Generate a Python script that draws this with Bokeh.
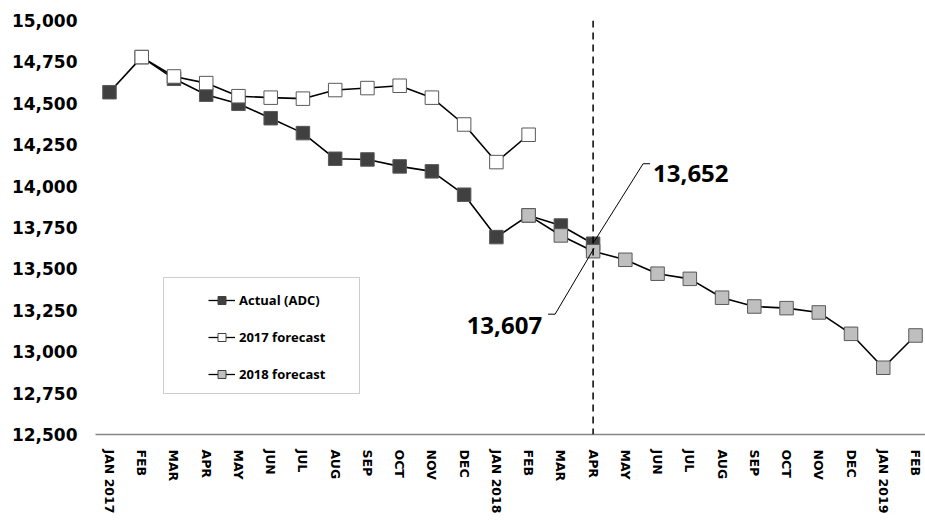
import math
from bokeh.plotting import figure
from bokeh.models import (Range1d, FixedTicker, Span, Legend, LegendItem,
                          BoxAnnotation, NumeralTickFormatter)
from bokeh.core.properties import value
from bokeh.embed import file_html
from bokeh.resources import INLINE

# ---------------- data ----------------
months = ["JAN 2017", "FEB", "MAR", "APR", "MAY", "JUN", "JUL", "AUG", "SEP", "OCT", "NOV", "DEC",
          "JAN 2018", "FEB", "MAR", "APR", "MAY", "JUN", "JUL", "AUG", "SEP", "OCT", "NOV", "DEC",
          "JAN 2019", "FEB"]

# Actual (ADC): JAN 2017 .. APR 2018
actual_start = 0
actual = [14567, 14779, 14648, 14552, 14497, 14410, 14320, 14165, 14161, 14119, 14089, 13948,
          13692, 13823, 13762, 13652]

# 2017 forecast: FEB 2017 .. FEB 2018
f2017_start = 1
forecast_2017 = [14779, 14662, 14622, 14543, 14534, 14528, 14580, 14592, 14606, 14534, 14372,
                 14145, 14310]

# 2018 forecast: FEB 2018 .. FEB 2019
f2018_start = 13
forecast_2018 = [13823, 13702, 13607, 13555, 13471, 13440, 13326, 13273, 13263, 13237, 13108,
                 12903, 13098]

cutoff_index = 15  # APR 2018
y_ticks = [12500, 12750, 13000, 13250, 13500, 13750, 14000, 14250, 14500, 14750, 15000]
series_names = ["Actual (ADC)", "2017 forecast", "2018 forecast"]

# ---------------- layout ----------------
W, H = 925, 529
ML, MR, MT, MB = 95, 0, 20, 95
x_start, x_end = -0.434, 25.31
y_start, y_end = 12500, 15000
frame_w, frame_h = W - ML - MR, H - MT - MB
px_x = frame_w / (x_end - x_start)
px_y = frame_h / (y_end - y_start)

p = figure(width=W, height=H, output_backend="svg", toolbar_location=None,
           x_range=Range1d(x_start, x_end), y_range=Range1d(y_start, y_end),
           min_border_left=ML, min_border_right=MR, min_border_top=MT, min_border_bottom=MB)
p.outline_line_color = None
p.xgrid.visible = False
p.ygrid.visible = False
p.background_fill_color = "white"
p.border_fill_color = "white"

# x axis
xa = p.xaxis[0]
xa.ticker = FixedTicker(ticks=list(range(len(months))))
xa.major_label_overrides = {i: m for i, m in enumerate(months)}
xa.major_label_orientation = -math.pi / 2
xa.major_label_text_font = "DejaVu Sans"
xa.major_label_text_font_style = "bold"
xa.major_label_text_font_size = "12.5px"
xa.major_label_text_color = "black"
xa.major_label_standoff = 9
xa.major_tick_line_color = None
xa.minor_tick_line_color = None
xa.axis_line_color = "#868686"
xa.axis_line_width = 1.5

# y axis
ya = p.yaxis[0]
ya.ticker = FixedTicker(ticks=y_ticks)
ya.formatter = NumeralTickFormatter(format="0,0")
ya.major_label_text_font = "DejaVu Sans"
ya.major_label_text_font_style = "bold"
ya.major_label_text_font_size = "17px"
ya.major_label_text_color = "black"
ya.major_label_standoff = 12
ya.major_tick_line_color = None
ya.minor_tick_line_color = None
ya.axis_line_color = None

# dashed cutoff line
p.add_layout(Span(location=cutoff_index, dimension="height", line_color="black",
                  line_width=1.5, line_dash="7 5"))

fills = ["#404040", "#ffffff", "#bfbfbf"]
series = [(actual_start, actual), (f2017_start, forecast_2017), (f2018_start, forecast_2018)]

for (start, vals), fill in zip(series, fills):
    xs = list(range(start, start + len(vals)))
    p.line(xs, vals, line_color="black", line_width=1.6)
    p.scatter(xs, vals, marker="square", size=13.5, fill_color=fill,
              line_color="#595959", line_width=1)

# legend (off-screen NaN renderers so the legend glyph can be smaller)
nan = float("nan")
items = []
for name, fill in zip(series_names, fills):
    lr = p.line([nan, nan], [nan, nan], line_color="black", line_width=1.3)
    sr = p.scatter([nan], [nan], marker="square", size=9, fill_color=fill,
                   line_color="#404040", line_width=1)
    items.append(LegendItem(label=name, renderers=[lr, sr]))

legend = Legend(items=items, location=(113, 50), padding=10, spacing=17,
                glyph_width=27, glyph_height=20, label_height=20, label_standoff=4,
                label_text_font="Open Sans", label_text_font_style="bold",
                label_text_font_size="13px", label_text_color="black",
                border_line_color=None, background_fill_alpha=0)
p.add_layout(legend)
p.add_layout(BoxAnnotation(left=68, right=264, bottom=41, top=157,
                           left_units="screen", right_units="screen",
                           bottom_units="screen", top_units="screen",
                           fill_alpha=0, line_color="#595959", line_width=1))

# value callouts at the cutoff month
def at(i, v, dx, dy):
    return i + dx / px_x, v - dy / px_y

a_val = actual[cutoff_index - actual_start]
f_val = forecast_2018[cutoff_index - f2018_start]

pts = [at(cutoff_index, a_val, 1, -2), at(cutoff_index, a_val, 50, -80), at(cutoff_index, a_val, 57, -80)]
p.line([q[0] for q in pts], [q[1] for q in pts], line_color="black", line_width=1)
pts = [at(cutoff_index, f_val, 1, -3), at(cutoff_index, f_val, -38, 63), at(cutoff_index, f_val, -45, 63)]
p.line([q[0] for q in pts], [q[1] for q in pts], line_color="black", line_width=1)

p.text(x=[cutoff_index], y=[a_val], text=[f"{a_val:,}"], x_offset=60, y_offset=-70,
       text_align="left", text_baseline="alphabetic", text_font=value("Open Sans"),
       text_font_style="bold", text_font_size="24px", text_color="black")
p.text(x=[cutoff_index], y=[f_val], text=[f"{f_val:,}"], x_offset=-51, y_offset=74,
       text_align="right", text_baseline="alphabetic", text_font=value("Open Sans"),
       text_font_style="bold", text_font_size="24px", text_color="black")

open("out.html", "w").write(file_html(p, INLINE))
